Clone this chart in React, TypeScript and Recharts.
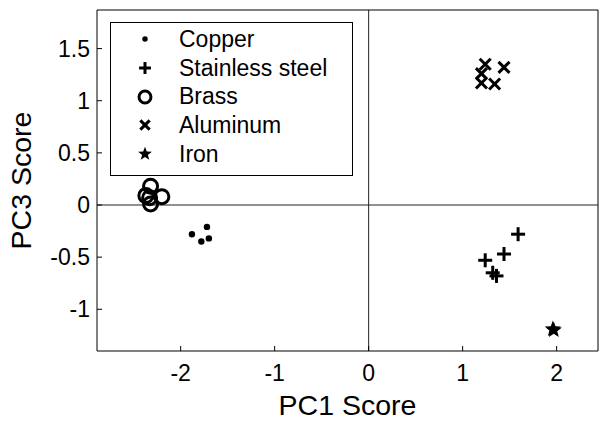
import React from 'react';
import { ScatterChart, Scatter, XAxis, YAxis, ReferenceLine, Label } from 'recharts';

const copper = [
  { x: -1.88, y: -0.28 },
  { x: -1.78, y: -0.35 },
  { x: -1.72, y: -0.21 },
  { x: -1.7, y: -0.32 },
];
const stainless = [
  { x: 1.59, y: -0.28 },
  { x: 1.44, y: -0.47 },
  { x: 1.24, y: -0.53 },
  { x: 1.32, y: -0.65 },
  { x: 1.36, y: -0.68 },
];
const brass = [
  { x: -2.32, y: 0.18 },
  { x: -2.37, y: 0.09 },
  { x: -2.2, y: 0.08 },
  { x: -2.32, y: 0.01 },
  { x: -2.33, y: 0.07 },
];
const aluminum = [
  { x: 1.24, y: 1.35 },
  { x: 1.44, y: 1.32 },
  { x: 1.2, y: 1.26 },
  { x: 1.2, y: 1.17 },
  { x: 1.34, y: 1.16 },
];
const iron = [
  { x: 1.96, y: -1.19 },
  { x: 1.97, y: -1.2 },
];

const xTicks = [-2, -1, 0, 1, 2];
const yTicks = [-1, -0.5, 0, 0.5, 1, 1.5];
const xDomain = [-2.89, 2.44];
const yDomain = [-1.4, 1.87];

const FONT = '"Liberation Sans", Arial, sans-serif';

type Kind = 'dot' | 'plus' | 'circle' | 'cross' | 'star';

const series: { name: string; kind: Kind; data: { x: number; y: number }[] }[] = [
  { name: 'Copper', kind: 'dot', data: copper },
  { name: 'Stainless steel', kind: 'plus', data: stainless },
  { name: 'Brass', kind: 'circle', data: brass },
  { name: 'Aluminum', kind: 'cross', data: aluminum },
  { name: 'Iron', kind: 'star', data: iron },
];

function starPoints(cx: number, cy: number, r: number) {
  const pts: string[] = [];
  for (let i = 0; i < 10; i++) {
    const rad = i % 2 === 0 ? r : r * 0.42;
    const a = -Math.PI / 2 + (i * Math.PI) / 5;
    pts.push(`${cx + rad * Math.cos(a)},${cy + rad * Math.sin(a)}`);
  }
  return pts.join(' ');
}

const Mark = ({ kind, cx, cy, s = 1 }: { kind: Kind; cx: number; cy: number; s?: number }) => {
  if (kind === 'dot') return <circle cx={cx} cy={cy} r={3.2 * s} fill="#000" />;
  if (kind === 'plus') {
    const h = 7 * s;
    return (
      <g stroke="#000" strokeWidth={3}>
        <line x1={cx - h} y1={cy} x2={cx + h} y2={cy} />
        <line x1={cx} y1={cy - h} x2={cx} y2={cy + h} />
      </g>
    );
  }
  if (kind === 'circle') return <circle cx={cx} cy={cy} r={7 * s} fill="none" stroke="#000" strokeWidth={3} />;
  if (kind === 'cross') {
    const h = 5.5 * s;
    return (
      <g stroke="#000" strokeWidth={3}>
        <line x1={cx - h} y1={cy - h} x2={cx + h} y2={cy + h} />
        <line x1={cx - h} y1={cy + h} x2={cx + h} y2={cy - h} />
      </g>
    );
  }
  return <polygon points={starPoints(cx, cy, 8.5 * s)} fill="#000" />;
};

const LegendBox = () => (
  <div
    style={{
      position: 'absolute',
      left: 110,
      top: 22,
      border: '1px solid #000',
      background: '#fff',
      width: 241,
      height: 149,
      boxSizing: 'content-box',
      paddingTop: 2,
      paddingBottom: 1,
      fontFamily: FONT,
      fontSize: 23,
    }}
  >
    {series.map((s) => (
      <div key={s.name} style={{ display: 'flex', alignItems: 'center', height: 28.7 }}>
        <svg width={68} height={28} style={{ flex: 'none' }}>
          <Mark kind={s.kind} cx={34} cy={14} s={0.85} />
        </svg>
        <span style={{ color: '#000', whiteSpace: 'nowrap' }}>{s.name}</span>
      </div>
    ))}
  </div>
);

export default function App() {
  const tickStyle = { fill: '#000', fontSize: 23, fontFamily: FONT };
  return (
    <div style={{ position: 'absolute', left: 0, top: 0, width: 601, height: 421, background: '#fff' }}>
      <ScatterChart width={601} height={421} margin={{ top: 9, right: 2, bottom: 0, left: 0 }}>
        <XAxis
          type="number"
          dataKey="x"
          domain={xDomain}
          ticks={xTicks}
          interval={0}
          allowDataOverflow
          height={70}
          tickSize={-5}
          tickMargin={19}
          tick={tickStyle}
          stroke="#000"
        >
          <Label
            content={({ viewBox }: any) => (
              <text
                x={viewBox.x + viewBox.width / 2}
                y={viewBox.y + 64}
                textAnchor="middle"
                fontSize={28.5}
                fontFamily={FONT}
                fill="#000"
              >
                PC1 Score
              </text>
            )}
          />
        </XAxis>
        <XAxis
          xAxisId="top"
          orientation="top"
          type="number"
          dataKey="x"
          domain={xDomain}
          ticks={xTicks}
          interval={0}
          allowDataOverflow
          height={1}
          tickSize={-5}
          tick={false}
          stroke="#000"
        />
        <YAxis
          type="number"
          dataKey="y"
          domain={yDomain}
          ticks={yTicks}
          interval={0}
          allowDataOverflow
          width={97}
          tickSize={-5}
          tickMargin={12}
          tick={tickStyle}
          stroke="#000"
        >
          <Label
            content={({ viewBox }: any) => {
              const cx = viewBox.x + 21;
              const cy = viewBox.y + viewBox.height / 2;
              return (
                <text
                  x={cx}
                  y={cy}
                  transform={`rotate(-90 ${cx} ${cy})`}
                  textAnchor="middle"
                  dominantBaseline="central"
                  fontSize={28.5}
                  fontFamily={FONT}
                  fill="#000"
                >
                  PC3 Score
                </text>
              );
            }}
          />
        </YAxis>
        <YAxis
          yAxisId="right"
          orientation="right"
          type="number"
          dataKey="y"
          domain={yDomain}
          ticks={yTicks}
          interval={0}
          allowDataOverflow
          width={1}
          tickSize={-5}
          tick={false}
          stroke="#000"
        />
        <ReferenceLine x={0} stroke="#222" strokeWidth={1} />
        <ReferenceLine y={0} stroke="#222" strokeWidth={1} />
        {series.map((s) => (
          <Scatter
            key={s.name}
            name={s.name}
            data={s.data}
            isAnimationActive={false}
            shape={(p: any) => <Mark kind={s.kind} cx={p.cx} cy={p.cy} />}
          />
        ))}
      </ScatterChart>
      <LegendBox />
    </div>
  );
}
